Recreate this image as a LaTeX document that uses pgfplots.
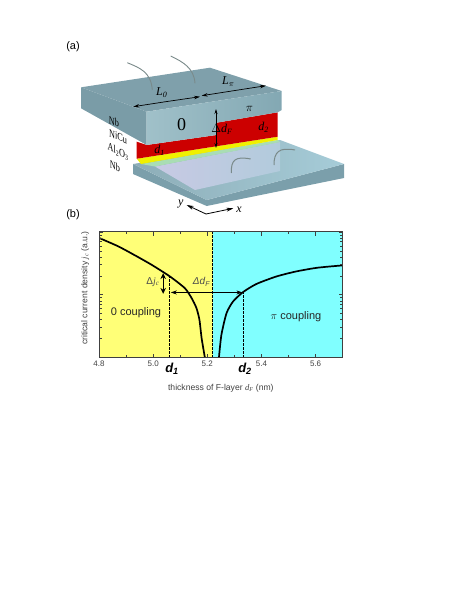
\documentclass[border=0pt]{standalone}
\usepackage{pgfplots}
\pgfplotsset{compat=1.18}
\usetikzlibrary{arrows.meta}
\usepackage{fontspec}
\setmainfont{Liberation Sans}
\newfontfamily\tms{Liberation Serif}
\definecolor{topface}{HTML}{7FA0AB}
\definecolor{sideface}{HTML}{7A9CA7}
\definecolor{frontlight}{HTML}{E4FAFD}
\definecolor{frontdark}{HTML}{83A8B3}
\definecolor{jred}{HTML}{CC0000}
\definecolor{jyellow}{HTML}{F0F000}
\definecolor{jgreen}{HTML}{A9DDB4}
\definecolor{plate}{HTML}{A6CCD8}
\definecolor{platedark}{HTML}{7B9FAB}
\definecolor{lav}{HTML}{C8CAE4}
\definecolor{wire}{HTML}{7A8A8A}
\definecolor{bgyellow}{HTML}{FFFF77}
\definecolor{bgcyan}{HTML}{80FFFF}
\definecolor{tickgray}{HTML}{404040}
\begin{document}
\begin{tikzpicture}[x=1pt,y=-1pt,font=\fontsize{8}{9}\selectfont]
\path[use as bounding box] (0,0) rectangle (469,607);
\coordinate (plotorigin) at (99,357.5);
% --- schematic (a)
\node[anchor=center,font=\fontsize{11}{12}\selectfont] at (73,47) {(a)};
\node[anchor=center,font=\fontsize{11}{12}\selectfont] at (73,215) {(b)};
% bottom plate
\fill[platedark] (133,164) -- (206.7,200) -- (344,164) -- (344,178) -- (206.7,206) -- (133,174) -- cycle;
\shade[left color=plate!85!black,right color=plate] (133,164) -- (280,140) -- (344,164) -- (206.7,200) -- cycle;
\shade[left color=lav,right color=lav!35!plate] (155,166.5) -- (280,142) -- (280,171) -- (195,190) -- cycle;
\draw[wire,line width=1] (231.3,173) .. controls (231,160) and (235,156) .. (250.7,159);
\draw[wire,line width=1] (274,165) .. controls (274,152) and (279,147) .. (295,150);
% junction layers
\fill[jgreen] (141,164) -- (277.7,140) -- (280,142) -- (155,166.5) -- cycle;
\fill[jyellow] (136.7,158.7) -- (277.7,136.7) -- (277.7,140) -- (141,164) -- cycle;
\fill[jred] (136.7,141.7) -- (146.7,145) -- (216.7,135) -- (216.7,122.7) -- (277.7,112.3) -- (277.7,136.7) -- (136.7,158.7) -- cycle;
% top block
\fill[sideface] (81,87.3) -- (146.7,111.7) -- (146.7,145) -- (81,108.3) -- cycle;
\fill[topface] (81,87.3) -- (210,67.7) -- (281.7,91) -- (146.7,111.7) -- cycle;
\shade[left color=frontdark!70!frontlight,middle color=frontlight,right color=frontdark] (146.7,111.7) -- (281.7,91) -- (281.7,110) -- (277.7,112.3) -- (216.7,122.7) -- (216.7,135) -- (146.7,145) -- cycle;
\draw[wire,line width=0.9] (127.3,62.7) .. controls (140,68) and (151,72) .. (152.3,90);
\draw[wire,line width=0.9] (170.7,56) .. controls (183,62) and (194,68) .. (195,83.3);
% dimensions
\draw[-{Stealth[length=6pt,width=3.5pt]},line width=0.7] (165,101.8) -- (133.3,106.7);
\draw[-{Stealth[length=6pt,width=3.5pt]},line width=0.7] (165,101.8) -- (200,96.7);
\draw[-{Stealth[length=6pt,width=3.5pt]},line width=0.7] (235,90.5) -- (201.7,95.7);
\draw[-{Stealth[length=6pt,width=3.5pt]},line width=0.7] (235,90.5) -- (266,85.7);
\draw[{Stealth[length=5pt,width=3pt]}-{Stealth[length=5pt,width=3pt]},line width=0.7] (216,109) -- (216,148);
\node[font=\tms\itshape\fontsize{12}{13}\selectfont] at (161.7,92.3) {L\textsubscript{0}};
\node[font=\tms\itshape\fontsize{12}{13}\selectfont] at (228.3,81.7) {L\textsubscript{$\pi$}};
\node[font=\tms\fontsize{18}{19}\selectfont] at (181.7,124.3) {0};
\node[font=\fontsize{13}{14}\selectfont] at (249.3,108.5) {$\pi$};
\node[font=\tms\itshape\fontsize{12}{13}\selectfont] at (222,129) {$\Delta$d\textsubscript{F}};
\node[font=\tms\itshape\fontsize{12}{13}\selectfont] at (159.5,150.5) {d\textsubscript{1}};
\node[font=\tms\itshape\fontsize{12}{13}\selectfont] at (263.5,127.3) {d\textsubscript{2}};
% layer labels
\node[font=\tms\fontsize{11}{12}\selectfont,xscale=0.75,yslant=-0.35] at (114,121.7) {Nb};
\node[font=\tms\fontsize{11}{12}\selectfont,xscale=0.75,yslant=-0.35] at (118,136.7) {NiCu};
\node[font=\tms\fontsize{11}{12}\selectfont,xscale=0.75,yslant=-0.35] at (118,151.7) {Al\textsubscript{2}O\textsubscript{3}};
\node[font=\tms\fontsize{11}{12}\selectfont,xscale=0.75,yslant=-0.35] at (115,166) {Nb};
% xy axes
\draw[{Stealth[length=7pt,width=4pt]}-{Stealth[length=7pt,width=4pt]},line width=0.8] (186.7,205) -- (206,214) -- (233.3,208.3);
\node[font=\tms\itshape\fontsize{12}{13}\selectfont] at (180.7,204.5) {y};
\node[font=\tms\itshape\fontsize{12}{13}\selectfont] at (239,210) {x};
% --- plot (b)
\begin{axis}[
  at={(plotorigin)},anchor=south west,
  scale only axis,width=243.7pt,height=125.6pt,
  xmin=4.8,xmax=5.7,ymin=1,ymax=100,ymode=log,
  axis on top,
  xtick={4.8,5.0,5.2,5.4,5.6},minor x tick num=1,
  ytick={1,10,100},yticklabels={},
  xticklabel style={/pgf/number format/fixed,/pgf/number format/fixed zerofill,/pgf/number format/precision=1,/pgf/number format/assume math mode=true,font=\fontsize{8}{9}\selectfont,text=tickgray},
  tick align=inside,tick pos=both,
  major tick length=4pt,minor tick length=2.5pt,
  every tick/.style={tickgray,line width=0.5pt},
  axis line style={tickgray,line width=0.9pt},
  xlabel={thickness of F-layer {\tms\itshape d\textsubscript{F}} (nm)},
  xlabel style={at={(axis description cs:0.5,-0.243)},anchor=center,font=\fontsize{8.6}{10}\selectfont,text=tickgray},
  ylabel={critical current density {\tms\itshape j\textsubscript{c}} (a.u.)},
  ylabel style={at={(axis description cs:-0.057,0.553)},anchor=center,font=\fontsize{8.6}{10}\selectfont,text=tickgray},
  clip=true]
\addplot[fill=bgyellow,draw=none] coordinates {(4.8,1)(5.22,1)(5.22,100)(4.8,100)} -- cycle;
\addplot[fill=bgcyan,draw=none] coordinates {(5.22,1)(5.7,1)(5.7,100)(5.22,100)} -- cycle;
\addplot[black,line width=0.7pt,dash pattern=on 2.5pt off 1.5pt] coordinates {(5.22,1)(5.22,100)};
\addplot[black,line width=0.9pt,dash pattern=on 2.5pt off 1.5pt] coordinates {(5.062,1)(5.062,19.5)};
\addplot[black,line width=0.9pt,dash pattern=on 2.5pt off 1.5pt] coordinates {(5.332,1)(5.332,11.0)};
\addplot[black,line width=1.7pt,smooth,tension=0.4] coordinates {
 (4.80,80.2)(4.871,58.9)(4.933,42.3)(4.994,30.0)(5.062,19.5)(5.117,12.7)(5.142,8.83)(5.160,6.11)(5.171,3.97)(5.179,2.03)(5.191,1.0)};
\addplot[black,line width=1.7pt,smooth,tension=0.4] coordinates {
 (5.243,1.0)(5.252,2.29)(5.271,5.08)(5.295,7.79)(5.332,11.0)(5.381,14.8)(5.455,19.5)(5.529,23.5)(5.607,26.9)(5.70,29.3)};
\addplot[black,line width=0.7pt,{Stealth[length=6pt,width=4pt]}-{Stealth[length=6pt,width=4pt]}] coordinates {(5.065,10.85)(5.33,10.85)};
\addplot[black,line width=1.1pt,{Stealth[length=6pt,width=5.5pt]}-{Stealth[length=6pt,width=5.5pt]}] coordinates {(5.037,22.1)(5.037,10.3)};
\end{axis}
\node[font=\fontsize{11}{12}\selectfont,text=black!85] at (136,313) {0 coupling};
\node[font=\fontsize{11}{12}\selectfont,text=black!85] at (296,317) {$\pi$ coupling};
\node[font=\fontsize{10}{11}\selectfont,text=black!70] at (153,282) {Δ{\tms\itshape j\textsubscript{c}}};
\node[font=\itshape\fontsize{10}{11}\selectfont,text=black!70] at (201.5,282) {Δd\textsubscript{F}};
\node[font=\bfseries\itshape\fontsize{13}{14}\selectfont] at (172,368.5) {d\textsubscript{1}};
\node[font=\bfseries\itshape\fontsize{13}{14}\selectfont] at (245,368.5) {d\textsubscript{2}};
\end{tikzpicture}
\end{document}
